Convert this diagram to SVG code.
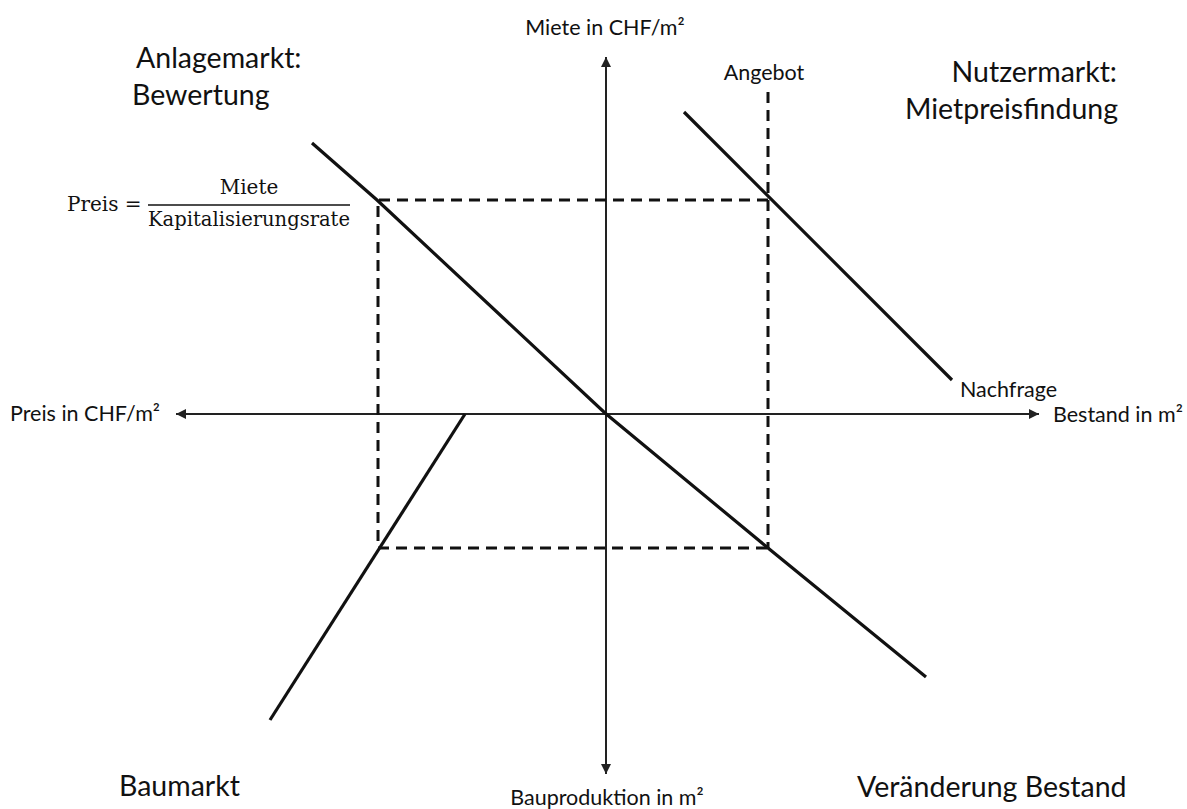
<svg xmlns="http://www.w3.org/2000/svg" width="1187" height="809" viewBox="0 0 1187 809">
<style>
.big{font-family:Lato,"Open Sans","Liberation Sans",sans-serif;font-size:28.5px;fill:#111}
.small{font-family:Lato,"Open Sans","Liberation Sans",sans-serif;font-size:21.5px;fill:#111}
.math{font-family:"DejaVu Serif","Liberation Serif",serif;font-size:20px;fill:#111}
.axis{stroke:#222;stroke-width:2;fill:none}
.curve{stroke:#111;stroke-width:3.2;fill:none;stroke-linecap:butt}
.dash{stroke:#111;stroke-width:3;fill:none;stroke-dasharray:11 7}
</style>
<defs>
<marker id="arr" viewBox="0 0 10 10" refX="10" refY="5" markerWidth="5" markerHeight="5" orient="auto-start-reverse" markerUnits="strokeWidth">
<path d="M0,0 L10,5 L0,10 Z" fill="#222"/>
</marker>
</defs>
<g id="connectors">
<line id="axis-vertical" class="axis" x1="606" y1="57" x2="606" y2="774" marker-start="url(#arr)" marker-end="url(#arr)"/>
<line id="axis-horizontal" class="axis" x1="176" y1="414" x2="1039" y2="414" marker-start="url(#arr)" marker-end="url(#arr)"/>
<polyline id="valuation-line" class="curve" points="312,143 377,200 605,413 768,548 926,677"/>
<line id="demand-line" class="curve" x1="684" y1="112" x2="952" y2="380"/>
<line id="construction-line" class="curve" x1="465" y1="414" x2="270" y2="720"/>
<line id="supply-line" class="dash" x1="768" y1="92" x2="768" y2="548"/>
<polyline id="dashed-rect" class="dash" points="768,200 378,200 378,548 768,548"/>
</g>
<g id="label-anlagemarkt">
<text class="big" x="136" y="68">Anlagemarkt:</text>
<text class="big" x="132" y="105">Bewertung</text>
</g>
<g id="label-nutzermarkt">
<text class="big" x="1117" y="82" text-anchor="end">Nutzermarkt:</text>
<text class="big" x="1118" y="119" text-anchor="end">Mietpreisfindung</text>
</g>
<g id="label-baumarkt">
<text class="big" x="119" y="796">Baumarkt</text>
</g>
<g id="label-veraenderung">
<text class="big" x="857" y="797">Veränderung Bestand</text>
</g>
<g id="axis-labels">
<text class="small" x="605" y="35" text-anchor="middle">Miete in CHF/m²</text>
<text class="small" x="607" y="805" text-anchor="middle">Bauproduktion in m²</text>
<text class="small" x="10" y="421">Preis in CHF/m²</text>
<text class="small" x="1053" y="422">Bestand in m²</text>
<text class="small" x="764" y="80" text-anchor="middle">Angebot</text>
<text class="small" x="960" y="397">Nachfrage</text>
</g>
<g id="formula">
<text class="math" x="67" y="211">Preis =</text>
<text class="math" x="249" y="194" text-anchor="middle">Miete</text>
<line x1="148" y1="205" x2="350" y2="205" stroke="#111" stroke-width="1.5"/>
<text class="math" x="148" y="226" textLength="202" lengthAdjust="spacingAndGlyphs">Kapitalisierungsrate</text>
</g>
</svg>
